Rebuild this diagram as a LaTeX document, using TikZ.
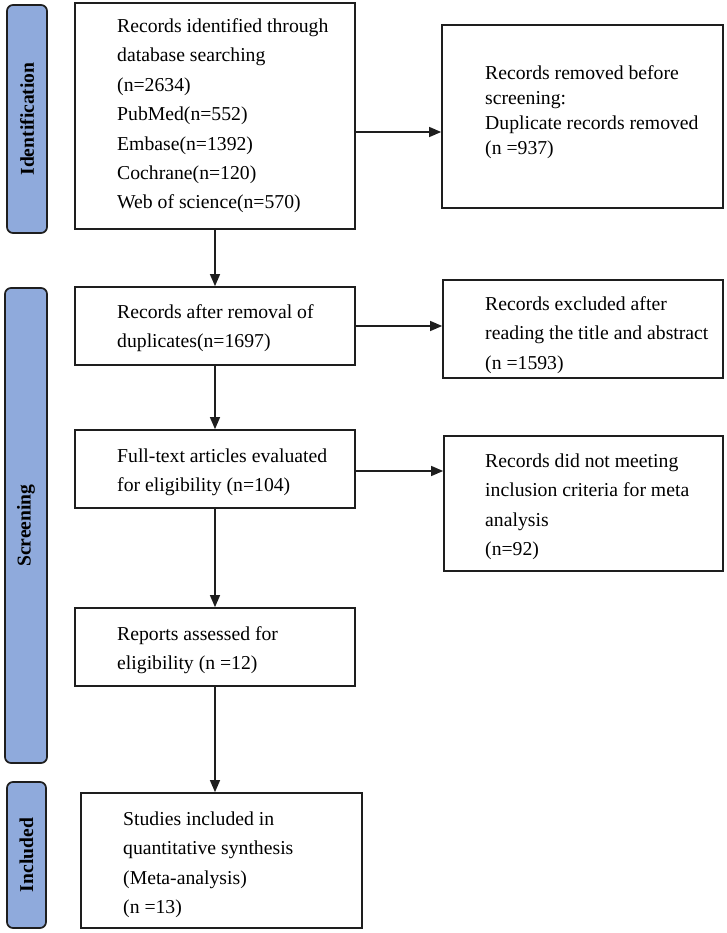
\documentclass[tikz,border=0pt]{standalone}
\usepackage{fontspec}
\setmainfont{Liberation Serif}
\usetikzlibrary{arrows.meta,calc}
\definecolor{lanefill}{RGB}{143,170,220}
\definecolor{edge}{RGB}{30,30,30}
\begin{document}
\begin{tikzpicture}[x=1pt,y=-1pt,
  box/.style={draw=edge, line width=1.7pt, inner sep=0pt},
  lane/.style={draw=edge, fill=lanefill, line width=1.7pt, rounded corners=6pt, inner sep=0pt},
  lbl/.style={anchor=north west, inner sep=0pt, align=left, font=\fontsize{19.7}{29.4}\selectfont},
  lbltight/.style={lbl, font=\fontsize{19.7}{25}\selectfont},
  lanetext/.style={rotate=90, inner sep=0pt, font=\fontsize{19.6}{22}\selectfont\bfseries},
  arr/.style={draw=edge, line width=1.3pt, -{Triangle[length=12pt,width=10pt]}}]
\useasboundingbox (0,0) rectangle (726,933);
% lanes
\node[lane, minimum width=40pt, minimum height=228pt] (lid) at (27,119) {};
\node[lanetext] (tid) at (lid.center) {Identification};
\node[lane, minimum width=42pt, minimum height=475pt] (lsc) at (26,525.5) {};
\node[lanetext] (tsc) at (lsc.center) {Screening};
\node[lane, minimum width=39pt, minimum height=146pt] (lin) at (26.5,855) {};
\node[lanetext] (tin) at (lin.center) {Included};
% boxes
\node[box, minimum width=280pt, minimum height=226pt] (b1) at (215,116) {};
\node[box, minimum width=281pt, minimum height=183pt] (rm) at (582.5,116.5) {};
\node[box, minimum width=280pt, minimum height=78pt] (b2) at (215,326) {};
\node[box, minimum width=280pt, minimum height=98pt] (ex) at (583,329) {};
\node[box, minimum width=280pt, minimum height=78pt] (b3) at (215,469) {};
\node[box, minimum width=279pt, minimum height=135pt] (nm) at (583.5,503.5) {};
\node[box, minimum width=280pt, minimum height=78pt] (b4) at (215,647) {};
\node[box, minimum width=281pt, minimum height=135pt] (b5) at (221.5,860.5) {};
% texts
\node[lbl] (t1) at (117,18.5) {Records identified through\\database searching\\(n=2634)\\PubMed(n=552)\\Embase(n=1392)\\Cochrane(n=120)\\Web of science(n=570)};
\node[lbltight] (trm) at (485,65.5) {Records removed before\\screening:\\Duplicate records removed\\(n =937)};
\node[lbl] (t2) at (117,304.5) {Records after removal of\\duplicates(n=1697)};
\node[lbl] (tex) at (485,296.5) {Records excluded after\\reading the title and abstract\\(n =1593)};
\node[lbl] (t3) at (117,448.5) {Full-text articles evaluated\\for eligibility (n=104)};
\node[lbl] (tnm) at (485,453.5) {Records did not meeting\\inclusion criteria for meta\\analysis\\(n=92)};
\node[lbl] (t4) at (117,626.5) {Reports assessed for\\eligibility (n =12)};
\node[lbl] (t5) at (123,811.5) {Studies included in\\quantitative synthesis\\(Meta-analysis)\\(n =13)};
% connectors
\coordinate (a1) at ([yshift=-16pt]b1.east);
\draw[arr] (a1) -- (a1 -| rm.west);
\draw[arr] (b2.east) -- (b2.east -| ex.west);
\coordinate (a3) at ([yshift=-2pt]b3.east);
\draw[arr] (a3) -- (a3 -| nm.west);
\draw[arr] (b1.south) -- (b1.south |- b2.north);
\draw[arr] (b2.south) -- (b2.south |- b3.north);
\draw[arr] (b3.south) -- (b3.south |- b4.north);
\draw[arr] (b4.south) -- (b4.south |- b5.north);
\end{tikzpicture}
\end{document}
